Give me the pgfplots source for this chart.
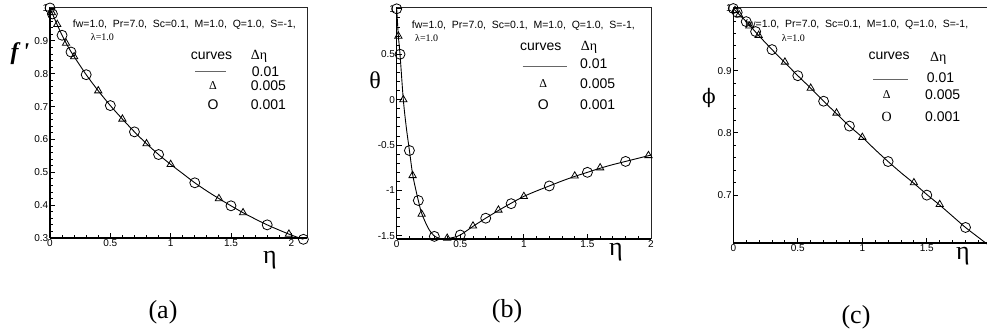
\documentclass[border=0pt]{standalone}
\usepackage{pgfplots}
\pgfplotsset{compat=1.18}
\usepackage{fontspec}
\setmainfont{Liberation Sans}
\newfontfamily\tnr{Liberation Serif}
\newfontfamily\djs{DejaVu Serif}

\pgfplotsset{
  myax/.style={
    scale only axis,
    axis lines=left,
    axis line style={-, line width=1.3pt, black},
    tick align=inside,
    major tick length=5pt, minor tick length=3pt,
    every tick/.style={black, line width=0.9pt},
    tick label style={font=\fontsize{10}{11}\selectfont, inner sep=1.5pt},
    /pgf/number format/assume math mode=true,
    clip=false,
    xtick={0,0.5,1,1.5,2},
    minor x tick num=4,
  },
  curve/.style={black, line width=0.9pt, smooth, tension=0.5, no marks},
  circ/.style={only marks, mark=o, mark size=5pt, black, mark options={line width=0.8pt}},
  tri/.style={only marks, mark=triangle, mark size=4.2pt, black, mark options={line width=0.8pt}},
}
\newcommand\T[3]{\node[anchor=west,inner sep=0pt] at (#1pt,{(333-#2)*1pt}) {#3};}
\newcommand\C[3]{\node[anchor=center,inner sep=0pt] at (#1pt,{(333-#2)*1pt}) {#3};}
\newcommand\legendblock[8]{%
  \T{#1}{#2}{\fontsize{10.5}{12}\selectfont fw=1.0,\ \ Pr=7.0,\ \ Sc=0.1,\ \ M=1.0,\ \ Q=1.0,\ \ S=-1,}
  \T{#3}{#4}{\tnr\fontsize{10}{12}\selectfont λ=1.0}
  \T{#5}{#6}{\fontsize{14}{16}\selectfont curves}
  \T{#7}{#8}{\tnr\fontsize{14}{16}\selectfont Δη}
}

\begin{document}
\begin{tikzpicture}
\useasboundingbox (0pt,0pt) rectangle (987pt,333pt);
\clip (0pt,0pt) rectangle (987pt,333pt);

% ---------------- (a) ----------------
\begin{axis}[myax, at={(50pt,95pt)}, anchor=south west, width=257pt, height=231pt,
  xmin=0, xmax=2.13, ymin=0.3, ymax=1.003,
  ytick={0.3,0.4,0.5,0.6,0.7,0.8,0.9,1}, minor y tick num=4]
\addplot[curve] table {
0 1.0
0.05 0.957
0.1 0.917
0.15 0.882
0.2 0.852
0.3 0.797
0.4 0.748
0.5 0.703
0.6 0.662
0.7 0.623
0.8 0.587
0.9 0.554
1.0 0.524
1.1 0.496
1.2 0.468
1.3 0.443
1.4 0.420
1.5 0.398
1.6 0.377
1.7 0.358
1.8 0.340
1.9 0.324
2.0 0.309
2.1 0.296
};
\addplot[circ] table {
0 1.0
0.02 0.982
0.1 0.917
0.174 0.866
0.3 0.797
0.5 0.703
0.7 0.623
0.9 0.554
1.2 0.468
1.5 0.398
1.8 0.340
2.1 0.296
};
\addplot[tri] table {
0.015 0.986
0.06 0.950
0.133 0.893
0.2 0.852
0.4 0.748
0.6 0.662
0.8 0.587
1.0 0.524
1.4 0.420
1.6 0.377
1.98 0.312
};
\draw[line width=0.9pt, black!85] (rel axis cs:0,1) -- (rel axis cs:1,1) -- (rel axis cs:1,0);
\end{axis}

% ---------------- (b) ----------------
\begin{axis}[myax, at={(396.7pt,94pt)}, anchor=south west, width=254.3pt, height=232pt,
  xmin=0, xmax=2, ymin=-1.534, ymax=1.02,
  ytick={-1.5,-1,-0.5,0,0.5,1}, minor y tick num=4]
\addplot[curve] table {
0 1.0
0.013 0.70
0.026 0.50
0.052 0.0
0.075 -0.30
0.10 -0.56
0.125 -0.82
0.15 -0.99
0.17 -1.11
0.196 -1.25
0.25 -1.42
0.3 -1.505
0.35 -1.53
0.4 -1.528
0.45 -1.515
0.5 -1.49
0.6 -1.395
0.7 -1.305
0.8 -1.22
0.9 -1.14
1.0 -1.065
1.1 -1.005
1.2 -0.95
1.3 -0.895
1.4 -0.845
1.5 -0.80
1.6 -0.755
1.7 -0.715
1.8 -0.68
1.9 -0.645
2.0 -0.61
};
\addplot[circ] table {
0 1.0
0.026 0.50
0.10 -0.56
0.17 -1.11
0.296 -1.505
0.50 -1.49
0.70 -1.305
0.90 -1.145
1.20 -0.95
1.50 -0.80
1.80 -0.68
};
\addplot[tri] table {
0.013 0.70
0.052 0.0
0.125 -0.835
0.196 -1.26
0.397 -1.525
0.60 -1.39
0.80 -1.215
1.00 -1.065
1.40 -0.84
1.60 -0.75
1.98 -0.615
};
\draw[line width=0.9pt, black!85] (rel axis cs:0,1) -- (rel axis cs:1,1) -- (rel axis cs:1,0);
\end{axis}

% ---------------- (c) ----------------
\begin{axis}[myax, at={(733.3pt,90pt)}, anchor=south west, width=258pt, height=236pt,
  xmin=0, xmax=2, ymin=0.623, ymax=1.0025,
  xticklabels={0,0.5,1,1.5,{}},
  ytick={0.7,0.8,0.9,1}, minor y tick num=4]
\addplot[curve] table {
0 1.0
0.1 0.979
0.2 0.956
0.3 0.934
0.4 0.913
0.5 0.892
0.6 0.872
0.7 0.851
0.8 0.831
0.9 0.811
1.0 0.793
1.1 0.773
1.2 0.754
1.3 0.736
1.4 0.719
1.5 0.701
1.6 0.684
1.7 0.666
1.8 0.648
1.9 0.632
1.97 0.621
};
\addplot[circ] table {
0 1.0
0.03 0.994
0.1 0.979
0.173 0.963
0.3 0.934
0.5 0.892
0.7 0.851
0.9 0.811
1.2 0.754
1.5 0.700
1.8 0.648
};
\addplot[tri] table {
0.013 0.997
0.045 0.990
0.124 0.972
0.196 0.957
0.4 0.914
0.6 0.872
0.8 0.832
1.0 0.793
1.4 0.720
1.6 0.685
};
\draw[line width=0.9pt, black!85] (rel axis cs:0,1) -- (rel axis cs:1,1) -- (rel axis cs:1,0);
\end{axis}

% ---------------- annotations ----------------
% (a)
\legendblock{72.7}{25}{90.7}{37.3}{190.7}{56}{250.7}{56}
\draw[line width=0.5pt, black!60] (195pt,{(333-71.7)*1pt}) -- (226pt,{(333-71.7)*1pt});
\T{251.7}{71.7}{\fontsize{14}{16}\selectfont 0.01}
\C{213}{86}{\tnr\fontsize{12}{14}\selectfont Δ}
\T{250.7}{86}{\fontsize{14}{16}\selectfont 0.005}
\C{213}{104.3}{\fontsize{14}{16}\selectfont O}
\T{250.7}{104.3}{\fontsize{14}{16}\selectfont 0.001}
% (b)
\legendblock{411.7}{26}{415}{38}{520}{47}{580.7}{47}
\draw[line width=0.5pt, black!60] (522.7pt,{(333-66.7)*1pt}) -- (567.3pt,{(333-66.7)*1pt});
\T{580}{63.3}{\fontsize{14}{16}\selectfont 0.01}
\C{543.3}{83.3}{\tnr\fontsize{12}{14}\selectfont Δ}
\T{580}{83.3}{\fontsize{14}{16}\selectfont 0.005}
\C{543.3}{105}{\fontsize{14}{16}\selectfont O}
\T{580}{105}{\fontsize{14}{16}\selectfont 0.001}
% (c)
\legendblock{745}{25}{781.7}{38.3}{868.3}{56}{930}{58}
\draw[line width=0.5pt, black!60] (873.3pt,{(333-79.3)*1pt}) -- (908.3pt,{(333-79.3)*1pt});
\T{926.7}{77.3}{\fontsize{14}{16}\selectfont 0.01}
\C{886.7}{95}{\tnr\fontsize{12}{14}\selectfont Δ}
\T{925}{95}{\fontsize{14}{16}\selectfont 0.005}
\C{886.7}{116.7}{\tnr\fontsize{14}{16}\selectfont O}
\T{925}{116.7}{\fontsize{14}{16}\selectfont 0.001}

% axis labels
\C{20}{54}{\tnr\bfseries\itshape\fontsize{24}{26}\selectfont f\,'}
\C{270}{260}{\tnr\fontsize{26}{28}\selectfont η}
\C{375}{80}{\tnr\fontsize{24}{26}\selectfont θ}
\C{616}{252}{\tnr\fontsize{26}{28}\selectfont η}
\C{709}{98}{\djs\fontsize{20}{22}\selectfont ϕ}
\C{963}{256}{\tnr\fontsize{26}{28}\selectfont η}

% panel captions
\C{163}{312}{\tnr\fontsize{26}{28}\selectfont (a)}
\C{507}{311}{\tnr\fontsize{26}{28}\selectfont (b)}
\C{856}{317}{\tnr\fontsize{26}{28}\selectfont (c)}
\end{tikzpicture}
\end{document}
